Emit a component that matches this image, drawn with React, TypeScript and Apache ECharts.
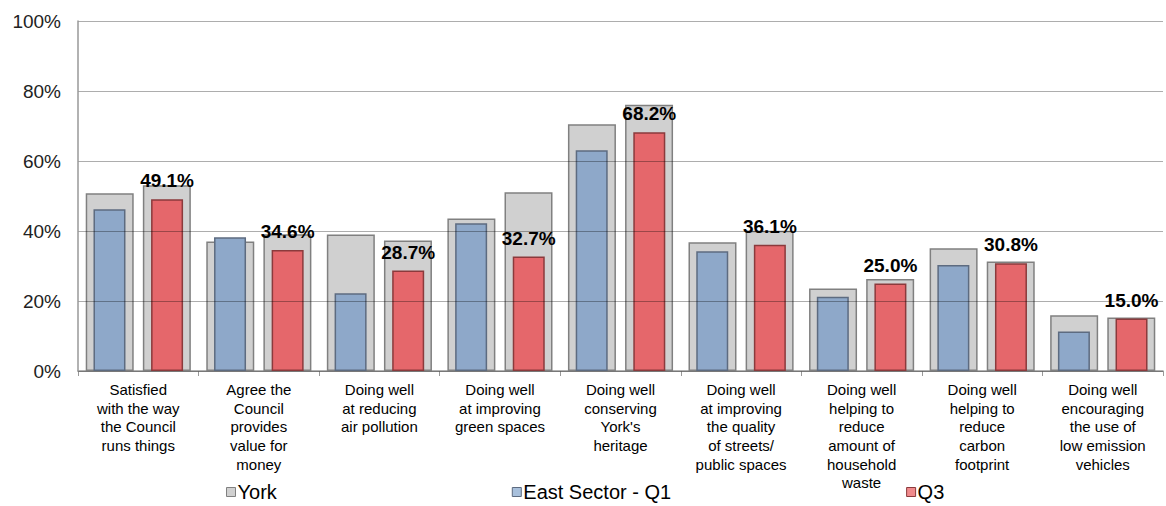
import React, { useEffect, useRef } from "react";
import * as echarts from "echarts";

const categories = [
  "Satisfied\nwith the way\nthe Council\nruns things",
  "Agree the\nCouncil\nprovides\nvalue for\nmoney",
  "Doing well\nat reducing\nair pollution",
  "Doing well\nat improving\ngreen spaces",
  "Doing well\nconserving\nYork's\nheritage",
  "Doing well\nat improving\nthe quality\nof streets/\npublic spaces",
  "Doing well\nhelping to\nreduce\namount of\nhousehold\nwaste",
  "Doing well\nhelping to\nreduce\ncarbon\nfootprint",
  "Doing well\nencouraging\nthe use of\nlow emission\nvehicles",
];

const yorkQ1 = [50.8, 37.0, 39.0, 43.6, 70.5, 36.8, 23.6, 35.1, 15.9];
const yorkQ3 = [53.1, 39.1, 37.3, 51.1, 76.1, 40.1, 26.3, 31.3, 15.3];
const eastQ1 = [46.2, 38.2, 22.2, 42.2, 63.1, 34.2, 21.2, 30.3, 11.3];
const eastQ3 = [49.1, 34.6, 28.7, 32.7, 68.2, 36.1, 25.0, 30.8, 15.0];

const yTicks = ["0%", "20%", "40%", "60%", "80%", "100%"];

export default function App() {
  const ref = useRef<HTMLDivElement>(null);
  useEffect(() => {
    if (!ref.current) return;
    const chart = echarts.init(ref.current, undefined, { renderer: "svg" });
    const font = "Liberation Sans, Arial, sans-serif";
    const grayStyle = { color: "#d0d0d0", borderColor: "#808080", borderWidth: 1.5 };
    chart.setOption({
      animation: false,
      textStyle: { fontFamily: font },
      grid: { left: 78, right: 3, top: 21, bottom: 135 },
      legend: {
        left: 226,
        top: 482,
        padding: 0,
        itemGap: 235,
        itemWidth: 9,
        itemHeight: 9,
        icon: "rect",
        textStyle: { fontSize: 20, color: "#000", fontFamily: font, padding: [0, 0, 0, -3] },
        data: [
          { name: "York", itemStyle: { color: "#d0d0d0", borderColor: "#808080", borderWidth: 1 } },
          { name: "East Sector - Q1", itemStyle: { color: "#a8c0dc", borderColor: "#5d6b80", borderWidth: 1 } },
          { name: "Q3", itemStyle: { color: "#f08a8c", borderColor: "#8b3a3c", borderWidth: 1 } },
        ],
      },
      xAxis: [
        {
          type: "category",
          data: categories,
          axisLine: { lineStyle: { color: "#999", width: 1.5 } },
          axisTick: { show: true, length: 5, lineStyle: { color: "#999" } },
          axisLabel: {
            interval: 0,
            fontSize: 15,
            lineHeight: 18.7,
            color: "#000",
            margin: 9,
            fontFamily: font,
          },
        },
        {
          type: "category",
          data: categories,
          show: false,
        },
      ],
      yAxis: {
        type: "value",
        min: 0,
        max: 100,
        interval: 20,
        z: 5,
        axisLine: { show: true, lineStyle: { color: "#999", width: 1.5 } },
        axisTick: { show: false },
        splitLine: { lineStyle: { color: "rgba(0,0,0,0.32)", width: 1.2 } },
        axisLabel: {
          fontSize: 19,
          color: "#222",
          margin: 17,
          fontFamily: font,
          formatter: (v: number) => yTicks[Math.round(v / 20)],
        },
      },
      series: [
        {
          name: "York",
          type: "bar",
          xAxisIndex: 0,
          data: yorkQ1,
          barWidth: 48,
          barGap: "19%",
          itemStyle: grayStyle,
        },
        {
          name: "York",
          type: "bar",
          xAxisIndex: 0,
          data: yorkQ3,
          barWidth: 48,
          barGap: "19%",
          itemStyle: grayStyle,
        },
        {
          name: "East Sector - Q1",
          type: "bar",
          xAxisIndex: 1,
          data: eastQ1,
          barWidth: 32,
          barGap: "80%",
          z: 3,
          itemStyle: { color: "#8ea8c9", borderColor: "#5d6b80", borderWidth: 1.5 },
        },
        {
          name: "Q3",
          type: "bar",
          xAxisIndex: 1,
          data: eastQ3,
          barWidth: 32,
          barGap: "80%",
          z: 3,
          itemStyle: { color: "#e5676b", borderColor: "#8b3a3c", borderWidth: 1.5 },
          label: {
            show: true,
            position: "top",
            distance: 9,
            fontSize: 19,
            fontWeight: "bold",
            color: "#000",
            fontFamily: font,
            formatter: (p: any) => p.value.toFixed(1) + "%",
          },
        },
      ],
    });
    return () => chart.dispose();
  }, []);
  return (
    <div
      ref={ref}
      style={{ position: "fixed", left: 0, top: 0, width: 1166, height: 506, background: "#fff" }}
    />
  );
}
